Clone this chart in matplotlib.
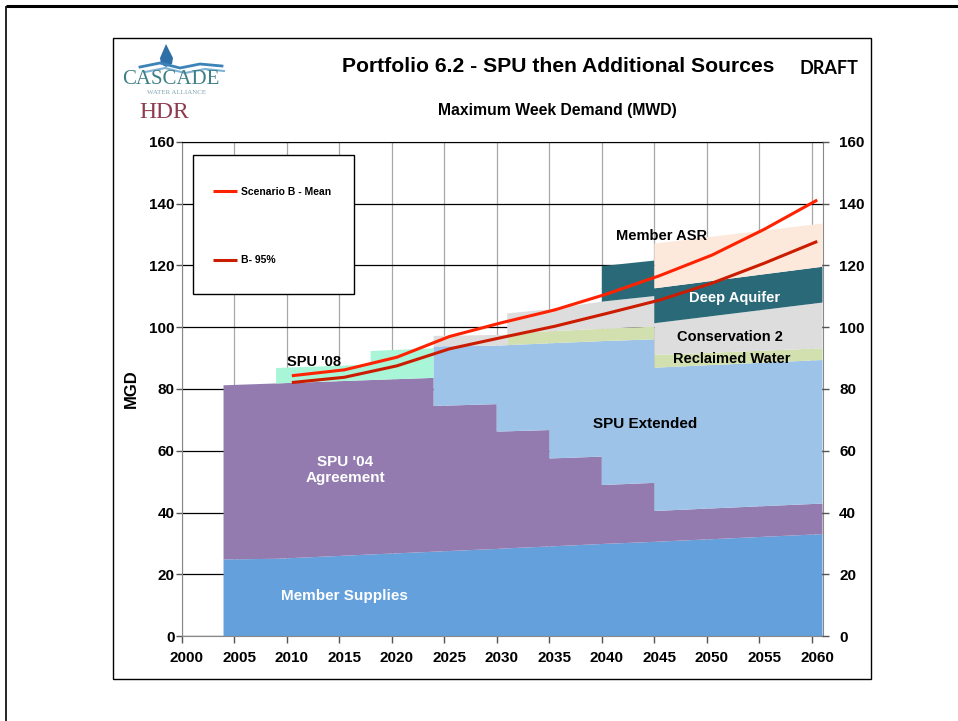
import matplotlib
matplotlib.use("Agg")
import matplotlib.pyplot as plt
from matplotlib.patches import Rectangle, Polygon
from matplotlib.transforms import ScaledTranslation

# ---------------- data ----------------
years = [2004, 2009, 2009, 2018, 2018, 2024, 2024, 2030, 2030, 2031, 2031,
         2035, 2035, 2040, 2040, 2045, 2045, 2061]
member_supplies = [24.8, 25.0, 25.0, 26.4, 26.4, 27.3, 27.3, 28.2, 28.2, 28.4, 28.4,
                   29.0, 29.0, 29.8, 29.8, 30.5, 30.5, 33.0]
spu_04 = [56.4, 56.8, 56.8, 56.5, 56.5, 56.3, 47.2, 46.9, 38.0, 37.9, 37.9,
          37.7, 28.5, 28.3, 19.1, 19.1, 10.0, 9.9]
spu_08 = [0, 0, 5.0, 5.0, 9.4, 9.6, 0, 0, 0, 0, 0, 0, 0, 0, 0, 0, 0, 0]
spu_extended = [0, 0, 0, 0, 0, 0, 19.3, 18.9, 27.8, 27.9, 27.9,
                28.1, 37.3, 37.4, 46.6, 46.5, 46.4, 46.5]
reclaimed = [0, 0, 0, 0, 0, 0, 0, 0, 0, 0, 3.8, 3.9, 3.9, 4.0, 4.0, 4.1, 4.1, 3.8]
conservation2 = [0, 0, 0, 0, 0, 0, 3.4, 3.5, 3.5, 3.4, 6.5, 7.1, 7.1, 8.8, 8.8, 9.9, 10.3, 14.8]
deep_aquifer = [0, 0, 0, 0, 0, 0, 0, 0, 0, 0, 0, 0, 0, 0, 11.5, 11.5, 11.3, 11.6]
member_asr = [0, 0, 0, 0, 0, 0, 0, 0, 0, 0, 0, 0, 0, 0, 0, 0, 14.5, 14.0]

demand_years = [2010.5, 2015.5, 2020.5, 2025.5, 2030.5, 2035.5, 2040.5, 2045.5, 2050.5, 2055.5, 2060.5]
scenario_b_mean = [84.3, 86.2, 90.3, 97.0, 101.5, 105.6, 110.8, 116.7, 123.4, 131.8, 141.2]
scenario_b_95 = [82.1, 83.8, 87.5, 93.0, 96.7, 100.3, 104.5, 108.8, 114.3, 120.8, 127.8]

x_ticks = list(range(2000, 2061, 5))
y_ticks = list(range(0, 161, 20))

layer_colors = ["#64A0DC", "#937BAF", "#A8F5D8", "#9DC3E8", "#D2E0B0",
                "#DDDDDD", "#2A6A78", "#FDE9DC"]

FONT = "Liberation Sans"

# ---------------- figure ----------------
W, H = 958, 721
fig = plt.figure(figsize=(W / 100, H / 100), dpi=100)
fig.patch.set_facecolor("white")

L, R, T, B = 181.5, 822.5, 142, 636
ax = fig.add_axes([L / W, (H - B) / H, (R - L) / W, (B - T) / H])


def px_to_axes(px, py):
    return (px - L) / (R - L), (B - py) / (B - T)


ax.stackplot(years, member_supplies, spu_04, spu_08, spu_extended, reclaimed,
             conservation2, deep_aquifer, member_asr,
             colors=layer_colors, linewidth=0, zorder=2)

l1, = ax.plot(demand_years, scenario_b_mean, color="#FF2200", lw=2.2,
              label="Scenario B - Mean", zorder=4, solid_capstyle="butt")
l2, = ax.plot(demand_years, scenario_b_95, color="#CC1C00", lw=2.2,
              label="B- 95%", zorder=4, solid_capstyle="butt")

ax.set_xlim(2000, 2061)
ax.set_ylim(0, 160)
ax.set_xticks(x_ticks)
ax.set_yticks(y_ticks)
ax.set_axisbelow(True)
ax.yaxis.grid(True, color="black", lw=0.9)
ax.xaxis.grid(True, color="#A8A8A8", lw=0.9)
for s in ["left", "bottom", "right"]:
    ax.spines[s].set_color("#888888")
ax.spines["top"].set_color("black")

ax.tick_params(axis="x", direction="out", length=5, width=1, color="#555555", pad=6,
               labelsize=11)
ax.tick_params(axis="y", direction="out", length=4, width=1, color="#555555", pad=1,
               labelsize=11)
for lab in ax.get_xticklabels() + ax.get_yticklabels():
    lab.set_fontfamily(FONT)
    lab.set_fontweight("bold")
for lab in ax.get_xticklabels():
    lab.set_transform(lab.get_transform() + ScaledTranslation(5 / 100, 0, fig.dpi_scale_trans))

ax2 = ax.twinx()
ax2.set_ylim(0, 160)
ax2.set_yticks(y_ticks)
ax2.tick_params(axis="y", direction="out", length=5, width=1, color="#555555", pad=7,
                labelsize=11)
for lab in ax2.get_yticklabels():
    lab.set_fontfamily(FONT)
    lab.set_fontweight("bold")
for s in ax2.spines.values():
    s.set_visible(False)

ax.set_ylabel("MGD", fontfamily=FONT, fontweight="bold", fontsize=12, labelpad=7)

# legend: frame drawn as a box, entries placed inside it
fx0, fy_top = px_to_axes(193, 155)
fx1, fy_bot = px_to_axes(354, 294)
ax.add_patch(Rectangle((fx0, fy_bot), fx1 - fx0, fy_top - fy_bot, transform=ax.transAxes,
                       facecolor="white", edgecolor="black", lw=1.0, zorder=5))
ax_l, ay_t = px_to_axes(213, 187)
leg = ax.legend(handles=[l1, l2], loc="upper left", bbox_to_anchor=(ax_l, ay_t),
                borderaxespad=0, borderpad=0, frameon=False,
                labelspacing=5.6, handlelength=2.3, handletextpad=0.4,
                prop={"family": FONT, "weight": "bold", "size": 7.5})
leg.set_zorder(6)

# area labels
lab_kw = dict(fontfamily=FONT, fontweight="bold", ha="center", va="center", zorder=5)
ax.text(2012.6, 88.8, "SPU '08", fontsize=10.5, color="black", **lab_kw)
ax.text(2015.6, 53.8, "SPU '04\nAgreement", fontsize=11, color="white",
        linespacing=1.15, **lab_kw)
ax.text(2044.1, 68.7, "SPU Extended", fontsize=11, color="black", **lab_kw)
ax.text(2015.5, 12.8, "Member Supplies", fontsize=11, color="white", **lab_kw)
ax.text(2045.7, 129.6, "Member ASR", fontsize=10.5, color="black", **lab_kw)
ax.text(2052.6, 109.5, "Deep Aquifer", fontsize=10.5, color="white", **lab_kw)
ax.text(2052.2, 96.8, "Conservation 2", fontsize=10.5, color="black", **lab_kw)
ax.text(2052.4, 89.7, "Reclaimed Water", fontsize=10.5, color="black", **lab_kw)

# ---------------- overlay (pixel coordinates) ----------------
ov = fig.add_axes([0, 0, 1, 1], facecolor="none", zorder=10)
ov.set_xlim(0, W)
ov.set_ylim(H, 0)
ov.axis("off")

# slide frame
ov.plot([6, W], [6, 6], color="black", lw=2.2, solid_capstyle="butt")
ov.plot([6, 6], [6, H], color="black", lw=1.2, solid_capstyle="butt")
# chart box
ov.add_patch(Rectangle((113, 38), 871 - 113, 679 - 38, fill=False,
                       edgecolor="black", lw=1.0))

# titles
ov.text(558, 66, "Portfolio 6.2 - SPU then Additional Sources", fontfamily=FONT,
        fontweight="bold", fontsize=15.2, ha="center", va="center")
ov.text(829, 68, "DRAFT", fontfamily="Lato", fontweight="bold", fontsize=13,
        ha="center", va="center")
ov.text(557, 110, "Maximum Week Demand (MWD)", fontfamily=FONT, fontweight="bold",
        fontsize=11.3, ha="center", va="center")

# logos
ov.add_patch(Polygon([[166, 44], [160, 58], [161, 64], [166, 67], [172, 64],
                      [173, 58]], closed=True, facecolor="#2E6FA8", edgecolor="none"))
ov.plot([140, 160, 180, 200, 222], [67, 63, 68, 64, 66], color="#3C83B8", lw=2)
ov.plot([145, 165, 185, 205, 224], [72, 68, 73, 69, 71], color="#7FB2D4", lw=1.5)
ov.text(171, 79, "CASCADE", fontfamily="Liberation Serif", fontsize=15,
        color="#3F7F86", ha="center", va="center")
ov.text(177, 92, "WATER ALLIANCE", fontfamily="Liberation Serif", fontsize=5,
        color="#7FA5B5", ha="center", va="center")
ov.text(164, 113, "HDR", fontfamily="Liberation Serif", fontsize=17,
        color="#8E3B4D", ha="center", va="center")

fig.savefig("out.png", dpi=100)
